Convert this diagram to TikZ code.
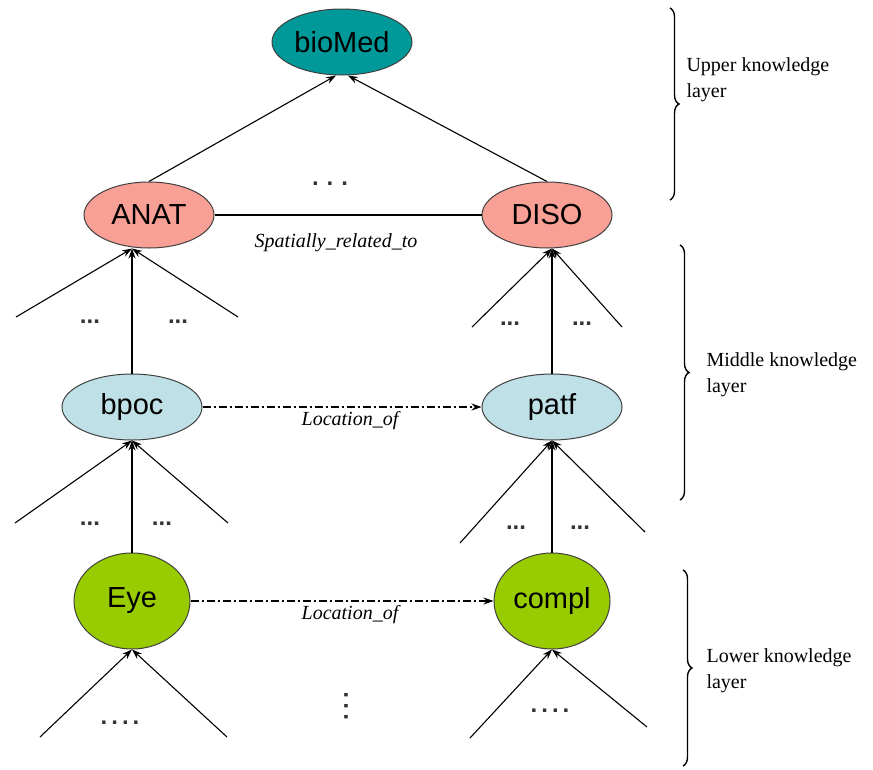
\documentclass[tikz,border=0pt]{standalone}
\usepackage{fontspec}
\setmainfont{Liberation Serif}
\newfontfamily\nodefont{Liberation Sans}
\usetikzlibrary{
	arrows,
	arrows.meta,
	calc,
	decorations.pathreplacing,
	positioning,
	shapes.geometric
}
\definecolor{bioTeal}{RGB}{0,153,153}
\definecolor{anatPink}{RGB}{249,160,150}
\definecolor{midBlue}{RGB}{190,224,230}
\definecolor{lowGreen}{RGB}{153,204,0}
\tikzset{every path/.append style={line width=1.1pt}}
\tikzset{every path/.append style={>={Stealth[length=10pt,width=7pt]}}}
\tikzset{
	term/.style={ellipse,draw=black!75,line width=1pt,inner sep=0pt,minimum width=140pt,minimum height=66pt,font=\nodefont\fontsize{29}{29}\selectfont},
	leaf/.style={term,minimum width=116pt,minimum height=96pt},
	rel/.style={font=\itshape\fontsize{20}{20}\selectfont},
	more/.style={font=\nodefont\bfseries\fontsize{24}{24}\selectfont,text=black!80},
	layer/.style={anchor=west,align=left,inner sep=0pt,font=\fontsize{20}{26}\selectfont},
	loc/.style={->,dash pattern=on 8pt off 3pt on 2pt off 3pt},
	layerbrace/.style={decorate,decoration={brace,amplitude=9pt},line width=1.4pt}
}
\newcommand{\tikzTerm}[4][]{\node (#3) at #2 [term,#1]{#4};}

\begin{document}
\begin{tikzpicture}[x=1pt,y=-1pt]
	\useasboundingbox (0,0) rectangle (873,769);
	
	\tikzTerm[fill=bioTeal]{(342,42)}{bioMed}{bioMed};
	\tikzTerm[fill=anatPink,minimum width=130pt]{(149,215)}{ANAT}{ANAT};
	\tikzTerm[fill=anatPink,minimum width=130pt]{(547,215)}{DISO}{DISO};
	\tikzTerm[fill=midBlue]{(132,407)}{bpoc}{bpoc};
	\tikzTerm[fill=midBlue]{(552,407)}{patf}{patf};
	\tikzTerm[leaf,fill=lowGreen]{(132,601)}{Eye}{Eye};
	\tikzTerm[leaf,fill=lowGreen]{(552,601)}{compl}{compl};
	
	% upper layer
	\draw[->] (ANAT.north) -- ([xshift=-6pt]bioMed.south);
	\draw[->] (DISO.north) -- ([xshift=6pt]bioMed.south);
	\draw (ANAT) -- (DISO);
	\node[more] (topDots) at (330,184) {.\,\,.\,\,.};
	\node[rel] (spatial) at (336,243) {Spatially\_related\_to};
	
	% middle layer
	\coordinate (anatIn) at (bpoc |- ANAT.south);
	\coordinate (disoIn) at (patf |- DISO.south);
	\coordinate (anatL) at (16,317);
	\coordinate (anatR) at (238,317);
	\coordinate (disoL) at (472,327);
	\coordinate (disoR) at (622,327);
	\draw[->] (anatL) -- (anatIn);
	\draw[->] (anatR) -- (anatIn);
	\draw[->] (bpoc) -- (anatIn);
	\draw[->] (disoL) -- (disoIn);
	\draw[->] (disoR) -- (disoIn);
	\draw[->] (patf) -- (disoIn);
	\node[more] (anatDotsL) at (90,322) {...};
	\node[more] (anatDotsR) at (178,322) {...};
	\node[more] (disoDotsL) at (510,324) {...};
	\node[more] (disoDotsR) at (582,324) {...};
	
	\draw[loc] (bpoc) -- (patf);
	\node[rel] (locMid) at (350,421) {Location\_of};
	
	\coordinate (bpocL) at (15,523);
	\coordinate (bpocR) at (228,523);
	\coordinate (patfL) at (460,543);
	\coordinate (patfR) at (645,532);
	\draw[->] (bpocL) -- (bpoc.south);
	\draw[->] (bpocR) -- (bpoc.south);
	\draw[->] (Eye) -- (bpoc.south);
	\draw[->] (patfL) -- (patf.south);
	\draw[->] (patfR) -- (patf.south);
	\draw[->] (compl) -- (patf.south);
	\node[more] (bpocDotsL) at (90,524) {...};
	\node[more] (bpocDotsR) at (162,524) {...};
	\node[more] (patfDotsL) at (516,528) {...};
	\node[more] (patfDotsR) at (580,528) {...};
	
	% lower layer
	\draw[loc] (Eye) -- (compl);
	\node[rel] (locLow) at (350,615) {Location\_of};
	
	\coordinate (eyeL) at (40,737);
	\coordinate (eyeR) at (227,737);
	\coordinate (complL) at (470,738);
	\coordinate (complR) at (647,727);
	\draw[->] (eyeL) -- (Eye.south);
	\draw[->] (eyeR) -- (Eye.south);
	\draw[->] (complL) -- (compl.south);
	\draw[->] (complR) -- (compl.south);
	\node[more] (eyeDots) at (120,723) {.\,.\,.\,.};
	\node[more] (complDots) at (550,711) {.\,.\,.\,.};
	\node[more,rotate=90] (midDots) at (346,706) {.\,.\,.};
	
	% layer braces
	\draw[layerbrace] (670,8) -- (670,200);
	\draw[layerbrace] (680,245) -- (680,500);
	\draw[layerbrace] (683,570) -- (683,766);
	\node[layer] (upper) at (686,80) {Upper knowledge\\layer};
	\node[layer] (middle) at (706,375) {Middle knowledge\\layer};
	\node[layer] (lower) at (706,671) {Lower knowledge\\layer};
\end{tikzpicture}
\end{document}
